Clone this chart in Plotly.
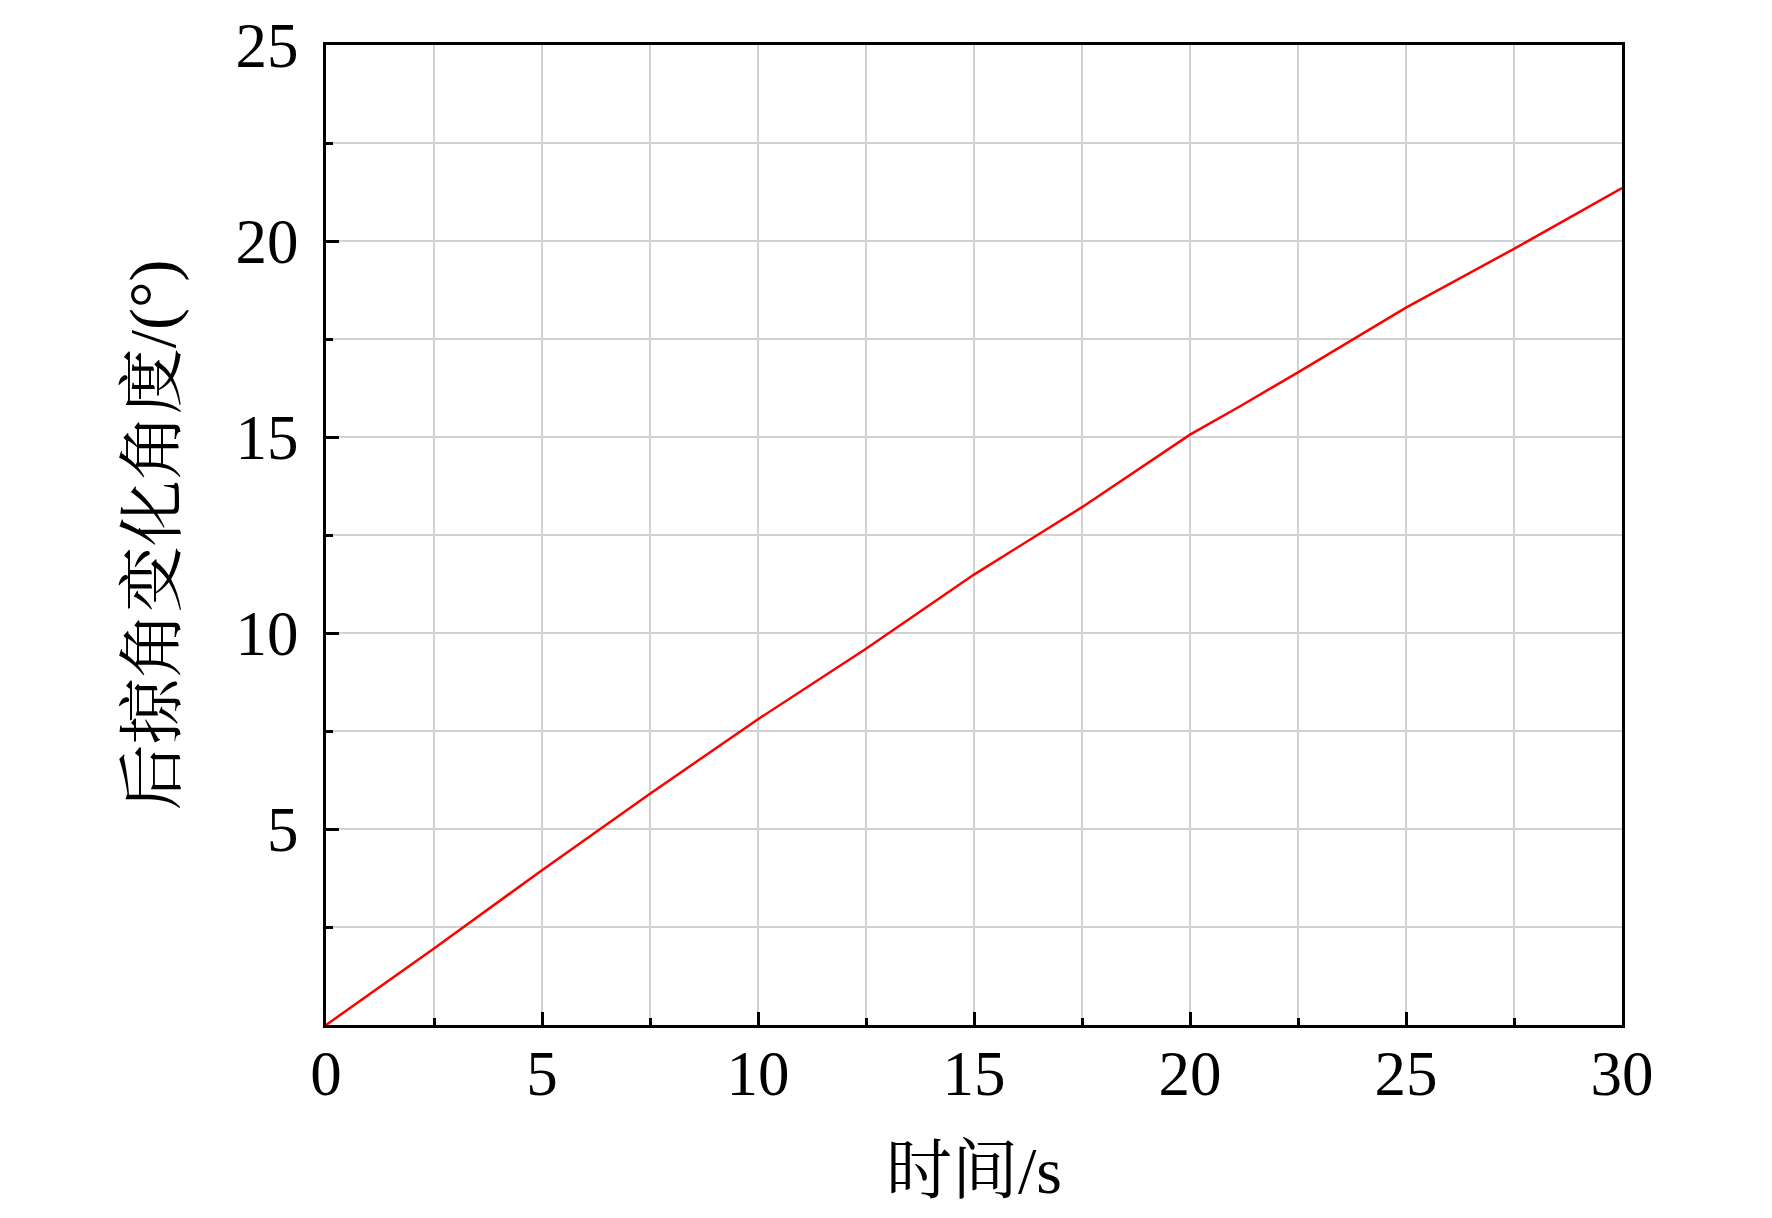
import plotly.graph_objects as go

time_s = [0, 2.5, 5, 7.5, 10, 12.5, 15, 17.5, 20, 21.2, 22.5, 25, 27.5, 30]
angle_deg = [0, 1.95, 3.95, 5.9, 7.8, 9.6, 11.49, 13.21, 15.06, 15.81, 16.65, 18.3, 19.8, 21.35]

x_ticks = [0, 5, 10, 15, 20, 25, 30]
y_ticks = [5, 10, 15, 20, 25]

FONT = "Liberation Serif, Times New Roman, Noto Serif CJK SC, Noto Sans CJK SC, serif"

fig = go.Figure()
fig.add_trace(go.Scatter(
    x=time_s, y=angle_deg, mode="lines",
    line=dict(color="#ff0000", width=2.5),
    showlegend=False,
))

axis_common = dict(
    showline=True, linecolor="black", linewidth=3, mirror=True,
    ticks="inside", ticklen=13, tickwidth=3, tickcolor="black",
    showgrid=True, gridcolor="#d2d2d2", gridwidth=2,
    zeroline=False,
    ticklabeloverflow="allow",
    tickfont=dict(family=FONT, size=63, color="black"),
)

minor_common = dict(dtick=2.5, tick0=0, ticks="inside", ticklen=7, tickwidth=2.5,
                    tickcolor="black", showgrid=True, gridcolor="#d2d2d2", gridwidth=2)

fig.update_xaxes(
    range=[0, 30], tickmode="array", tickvals=x_ticks,
    ticktext=[str(v) for v in x_ticks],
    minor=minor_common,
    ticklabelstandoff=-9,
    title=dict(text="时间/s", font=dict(family=FONT, size=66, color="black"), standoff=40),
    **axis_common,
)
fig.update_yaxes(
    range=[0, 25], tickmode="array", tickvals=y_ticks,
    ticktext=[str(v) for v in y_ticks],
    minor=minor_common,
    ticklabelstandoff=12,
    title=dict(text="后掠角变化角度/(°)", font=dict(family=FONT, size=66, color="black"), standoff=39),
    **axis_common,
)

fig.update_layout(
    width=1772, height=1218,
    margin=dict(l=318, r=158, t=37, b=201, autoexpand=False),
    paper_bgcolor="white", plot_bgcolor="white",
    font=dict(family=FONT, color="black"),
)

fig.write_html("out.html")
